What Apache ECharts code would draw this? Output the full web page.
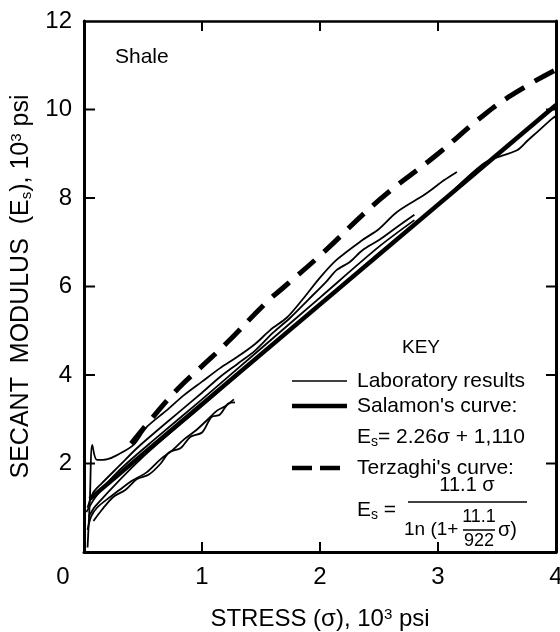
<!DOCTYPE html>
<html>
<head>
<meta charset="utf-8">
<script src="https://cdn.jsdelivr.net/npm/echarts@6/dist/echarts.min.js"></script>
<style>
  html, body { margin: 0; padding: 0; background: #fff; }
  #chart { width: 560px; height: 632px; }
</style>
</head>
<body>
<div id="chart"></div>
<script>
// axis ticks
var stressTicks = [0, 1, 2, 3, 4];
var modulusTicks = [0, 2, 4, 6, 8, 10, 12];

// Salamon's curve (straight line)
var salamonCurve = [[0.05, 1.2], [4.0, 10.1]];

// Terzaghi's curve (dashed)
var terzaghiCurve = [
  [0.4, 2.45], [0.6, 3.1], [0.8, 3.7], [1.0, 4.2], [1.2, 4.7], [1.55, 5.65],
  [1.7, 6.0], [2.0, 6.7], [2.5, 7.95], [3.0, 9.0], [3.4, 9.9], [3.7, 10.45], [4.0, 10.9]
];

// laboratory results (thin wavy lines)
var lab1 = [
  [0.03, 0.1], [0.05, 1.2], [0.07, 2.42], [0.11, 2.08], [0.2, 2.1], [0.28, 2.19],
  [0.42, 2.42], [0.53, 2.82], [0.7, 3.2], [0.85, 3.55], [1.0, 3.85], [1.15, 4.15],
  [1.3, 4.41], [1.45, 4.7], [1.58, 5.02], [1.72, 5.3], [1.85, 5.7], [2.0, 6.2],
  [2.14, 6.6], [2.36, 7.05], [2.5, 7.3], [2.65, 7.68], [2.9, 8.1], [3.05, 8.4], [3.16, 8.59]
];
var lab2 = [
  [0.03, 1.0], [0.08, 1.35], [0.15, 1.55], [0.3, 1.95], [0.45, 2.35], [0.6, 2.7],
  [0.8, 3.15], [1.0, 3.6], [1.15, 3.95], [1.3, 4.25], [1.45, 4.55], [1.6, 4.95],
  [1.75, 5.3], [1.9, 5.7], [2.05, 6.1], [2.14, 6.37], [2.25, 6.55], [2.36, 6.82],
  [2.5, 7.05], [2.65, 7.34], [2.8, 7.62]
];
var lab3 = [
  [0.02, 0.9], [0.1, 1.25], [0.3, 1.85], [0.6, 2.55], [1.0, 3.45], [1.5, 4.6],
  [2.0, 5.75], [2.5, 6.9], [2.8, 7.5]
];
var lab4 = [
  [0.04, 0.8], [0.1, 1.05], [0.5, 2.15], [1.0, 3.3], [1.5, 4.45], [2.0, 5.6],
  [2.5, 6.75], [3.0, 7.85], [3.4, 8.8], [3.67, 9.08], [3.76, 9.3], [3.84, 9.49],
  [3.97, 9.8], [4.0, 9.85]
];
var lab5 = [
  [0.03, 0.5], [0.06, 0.8], [0.11, 1.0], [0.2, 1.2], [0.3, 1.4], [0.4, 1.6],
  [0.53, 1.8], [0.65, 2.1], [0.75, 2.3], [0.85, 2.55], [0.95, 2.75], [1.05, 3.0],
  [1.13, 3.2], [1.2, 3.3], [1.27, 3.45]
];
var lab6 = [
  [0.08, 0.7], [0.15, 0.95], [0.25, 1.25], [0.35, 1.4], [0.45, 1.65], [0.55, 1.75],
  [0.65, 2.0], [0.72, 2.25], [0.82, 2.35], [0.9, 2.6], [1.0, 2.7], [1.08, 3.05],
  [1.15, 3.1], [1.22, 3.35], [1.28, 3.38]
];
var labResults = [lab1, lab2, lab3, lab4, lab5, lab6];

var FONT = "Liberation Sans";
var TICK = 10;

var chart = echarts.init(document.getElementById("chart"));

var series = [];
// thin lab curves
for (var i = 0; i < labResults.length; i++) {
  series.push({
    name: "Laboratory results",
    type: "line",
    data: labResults[i],
    showSymbol: false,
    smooth: 0.3,
    lineStyle: { color: "#000", width: 1.8 },
    z: 2
  });
}
series.push({
  name: "Salamon's curve",
  type: "line",
  data: salamonCurve,
  showSymbol: false,
  lineStyle: { color: "#000", width: 4.5 },
  z: 3
});
series.push({
  name: "Terzaghi's curve",
  type: "line",
  data: terzaghiCurve,
  showSymbol: false,
  smooth: true,
  lineStyle: { color: "#000", width: 5, type: [22, 12], cap: "butt" },
  z: 3
});

// inside tick marks (top/bottom for stress, left/right for modulus), drawn with api.coord
var yMin = modulusTicks[0], yMax = modulusTicks[modulusTicks.length - 1];
var xMin = stressTicks[0], xMax = stressTicks[stressTicks.length - 1];
series.push({
  type: "custom",
  silent: true,
  clip: false,
  data: stressTicks.slice(1, -1).map(function (v) { return [v, yMin]; }),
  renderItem: function (params, api) {
    var lo = api.coord([api.value(0), yMin]);
    var hi = api.coord([api.value(0), yMax]);
    var st = { stroke: "#000", lineWidth: 2 };
    return {
      type: "group",
      children: [
        { type: "line", shape: { x1: lo[0], y1: lo[1], x2: lo[0], y2: lo[1] - TICK }, style: st },
        { type: "line", shape: { x1: hi[0], y1: hi[1], x2: hi[0], y2: hi[1] + TICK }, style: st }
      ]
    };
  },
  z: 5
});
series.push({
  type: "custom",
  silent: true,
  clip: false,
  data: modulusTicks.slice(1, -1).map(function (v) { return [xMin, v]; }),
  renderItem: function (params, api) {
    var l = api.coord([xMin, api.value(1)]);
    var r = api.coord([xMax, api.value(1)]);
    var st = { stroke: "#000", lineWidth: 2 };
    return {
      type: "group",
      children: [
        { type: "line", shape: { x1: l[0], y1: l[1], x2: l[0] + TICK + 1, y2: l[1] }, style: st },
        { type: "line", shape: { x1: r[0], y1: r[1], x2: r[0] - TICK, y2: r[1] }, style: st }
      ]
    };
  },
  z: 5
});

var subRich = {
  s: { fontFamily: FONT, fontSize: 15, verticalAlign: "bottom", padding: [10, 0, 0, 0] },
  sup: { fontFamily: FONT, fontSize: 15, verticalAlign: "top", padding: [0, 0, 10, 0] }
};

// frame axis: only the line, no ticks / labels
function frameAxis(pos, min, max, step, w) {
  return {
    type: "value", min: min, max: max, interval: step, position: pos,
    axisLine: { show: true, onZero: false, lineStyle: { color: "#000", width: w } },
    axisTick: { show: false },
    axisLabel: { show: false },
    splitLine: { show: false }
  };
}

// small helper for key texts, anchored at (x, y)
function keyText(x, y, text, size, align) {
  return {
    type: "text",
    x: x,
    y: y,
    style: {
      text: text,
      font: (size || 20) + "px " + FONT,
      fill: "#000",
      align: align || "left",
      verticalAlign: "middle",
      rich: {
        s: { font: "14px " + FONT, padding: [10, 0, 0, 0] }
      }
    }
  };
}
function keyLine(x1, x2, y, w, dash) {
  return {
    type: "line",
    shape: { x1: x1, y1: y, x2: x2, y2: y },
    style: { stroke: "#000", lineWidth: w, lineDash: dash || null }
  };
}

chart.setOption({
  backgroundColor: "#fff",
  animation: false,
  grid: { left: 84, top: 21, right: 4, bottom: 80, outerBoundsMode: "none", containLabel: false },
  xAxis: [
    {
      type: "value",
      min: xMin,
      max: xMax,
      interval: 1,
      position: "bottom",
      name: "STRESS (σ), 10{sup|3} psi",
      nameLocation: "middle",
      nameGap: 55,
      nameTextStyle: { fontFamily: FONT, fontSize: 24, color: "#000", rich: subRich },
      axisLine: { show: true, onZero: false, lineStyle: { color: "#000", width: 3 } },
      axisTick: { show: false },
      axisLabel: {
        fontFamily: FONT,
        fontSize: 24,
        color: "#000",
        margin: 13,
        formatter: function (v) {
          return v === 0 ? "{z|0}" : String(v);
        },
        rich: { z: { fontFamily: FONT, fontSize: 24, padding: [0, 42, 0, 0] } }
      },
      splitLine: { show: false }
    },
    frameAxis("top", xMin, xMax, 1, 2.5)
  ],
  yAxis: [
    {
      type: "value",
      min: yMin,
      max: yMax,
      interval: 2,
      position: "left",
      name: "SECANT  MODULUS  (E{s|s}), 10{sup|3} psi",
      nameLocation: "middle",
      nameGap: 50,
      nameTextStyle: { fontFamily: FONT, fontSize: 25, color: "#000", rich: subRich },
      axisLine: { show: true, onZero: false, lineStyle: { color: "#000", width: 3 } },
      axisTick: { show: false },
      axisLabel: {
        fontFamily: FONT,
        fontSize: 24,
        color: "#000",
        margin: 12,
        formatter: function (v) {
          return v === 0 ? "" : String(v);
        }
      },
      splitLine: { show: false }
    },
    frameAxis("right", yMin, yMax, 2, 3)
  ],
  graphic: [
    keyText(115, 57, "Shale", 21),
    keyText(421, 348, "KEY", 19, "center"),
    keyLine(292, 347, 381, 1.5),
    keyText(357, 381, "Laboratory results", 21),
    keyLine(292, 347, 406, 4.5),
    keyText(357, 406, "Salamon's curve:", 21),
    keyText(357, 437, "E{s|s}= 2.26σ + 1,110", 21),
    keyLine(292, 347, 468, 4.5, [20, 8]),
    keyText(357, 468, "Terzaghi's curve:", 21),
    keyText(357, 510, "E{s|s} =", 21),
    keyText(467, 485, "11.1 σ", 20, "center"),
    keyLine(408, 527, 502, 1.5),
    keyText(404, 530, "1n (1+", 19),
    keyText(479, 517, "11.1", 18, "center"),
    keyLine(463, 495, 530, 1.5),
    keyText(479, 541, "922", 18, "center"),
    keyText(498, 530, "σ)", 20)
  ],
  series: series
});
</script>
</body>
</html>
